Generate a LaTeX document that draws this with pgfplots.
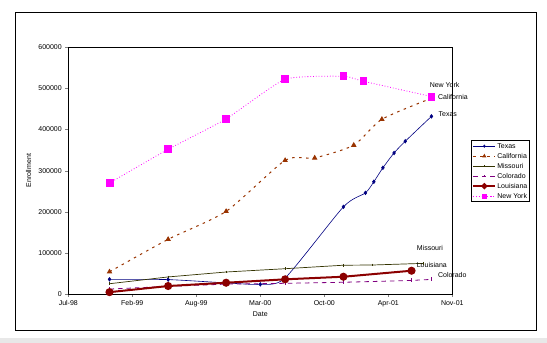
\documentclass[border=0pt]{standalone}
\usepackage{fontspec}
\setmainfont{Liberation Sans}
\usepackage{pgfplots}
\pgfplotsset{compat=1.18}

\definecolor{texas}{HTML}{000080}
\definecolor{calif}{HTML}{993300}
\definecolor{missouri}{HTML}{333300}
\definecolor{colorado}{HTML}{800080}
\definecolor{louisiana}{HTML}{8B0000}
\definecolor{newyork}{HTML}{FF00FF}

\newcommand{\chartfont}{\fontsize{7}{8}\selectfont}

\begin{document}
\begin{tikzpicture}
\useasboundingbox (0,0) rectangle (547pt,343pt);
\fill[gray!18] (0,0) rectangle (547pt,5pt);
\draw[black, line width=0.8pt] (15.3pt,12.7pt) rectangle (536pt,330.7pt);
\begin{axis}[
    at={(68.3pt,49pt)}, anchor=south west,
    scale only axis, width=384pt, height=246.7pt,
    xmin=0, xmax=6, ymin=0, ymax=600000,
    xtick={0,1,2,3,4,5,6},
    xticklabels={Jul-98,Feb-99,Aug-99,Mar-00,Oct-00,Apr-01,Nov-01},
    ytick={0,100000,...,600000},
    scaled y ticks=false,
    /pgf/number format/assume math mode=true,
    yticklabel style={/pgf/number format/fixed, /pgf/number format/1000 sep={}},
    tick label style={font=\chartfont},
    label style={font=\chartfont},
    tick align=outside, major tick length=3pt,
    xtick pos=bottom, ytick pos=left,
    axis line style={line width=0.7pt},
    xlabel={Date}, ylabel={Enrollment},
    xlabel style={at={(axis description cs:0.5,-0.081)}, anchor=center},
    ylabel style={at={(axis description cs:-0.1034,0.5)}, anchor=center},
    clip=false,
    legend style={at={(axis description cs:1.0487,0.623)}, anchor=north west,
        draw=black, line width=0.7pt, font=\chartfont, row sep=0pt,
        inner xsep=1pt, inner ysep=0.5pt,
        nodes={inner ysep=0.75pt, inner xsep=1pt, text height=6.5pt, text depth=2pt},
        cells={anchor=west}},
    legend image code/.code={
        \draw[mark repeat=2, mark phase=2, #1, every mark/.append style={scale=0.65}]
            plot coordinates {(0pt,0pt) (11pt,0pt) (22pt,0pt)};
    },
]
% Texas
\addplot[texas, line width=0.6pt, smooth, tension=0.4, mark=diamond*, mark size=1.8pt,
    mark options={solid}] coordinates {
    (0.644,35700) (1.560,35000) (2.466,27000) (3.000,23500) (3.388,39000)
    (4.299,212000) (4.643,246000) (4.774,273000) (4.916,307000)
    (5.090,343000) (5.265,371500) (5.674,432000)};
\addlegendentry{Texas}
% California
\addplot[calif, line width=1pt, dash pattern=on 2.5pt off 4.5pt, smooth, tension=0.4,
    mark=triangle*, mark size=2.2pt, mark options={solid}] coordinates {
    (0.644,54000) (1.560,133000) (2.466,201000) (3.388,325000) (3.850,331000)
    (4.460,362000) (4.900,425000) (5.674,476000)};
\addlegendentry{California}
% Missouri
\addplot[missouri, line width=0.7pt, mark=|, mark size=1.4pt, mark options={solid}] coordinates {
    (0.644,25000) (1.560,41500) (2.466,53500) (3.388,61500) (4.299,70000)
    (4.750,70500) (5.550,74500)};
\addlegendentry{Missouri}
% Colorado
\addplot[colorado, line width=0.8pt, dash pattern=on 4.5pt off 4pt, mark=|, mark size=2pt,
    mark options={solid}] coordinates {
    (0.644,12000) (1.560,18500) (2.466,24000) (3.388,26000) (4.299,28500)
    (5.363,33000) (5.674,35500)};
\addlegendentry{Colorado}
% Louisiana
\addplot[louisiana, line width=2pt, mark=*, mark size=3pt, mark options={solid}] coordinates {
    (0.644,4500) (1.560,19400) (2.466,27400) (3.388,35700) (4.299,42000)
    (5.363,56600)};
\addlegendentry{Louisiana}
% New York
\addplot[newyork, line width=0.8pt, dotted, smooth, tension=0.3, mark=square*,
    mark size=3.4pt, mark options={solid}] coordinates {
    (0.644,270000) (1.560,352000) (2.466,425800) (3.388,522300) (4.299,529600)
    (4.610,517400) (5.674,480200)};
\addlegendentry{New York}

\node[font=\chartfont] at (axis cs:5.88,509400) {New York};
\node[font=\chartfont] at (axis cs:6.01,479300) {California};
\node[font=\chartfont] at (axis cs:5.93,436500) {Texas};
\node[font=\chartfont] at (axis cs:5.65,111000) {Missouri};
\node[font=\chartfont] at (axis cs:5.68,69700) {Louisiana};
\node[font=\chartfont] at (axis cs:6.00,45400) {Colorado};
\end{axis}
\end{tikzpicture}
\end{document}
